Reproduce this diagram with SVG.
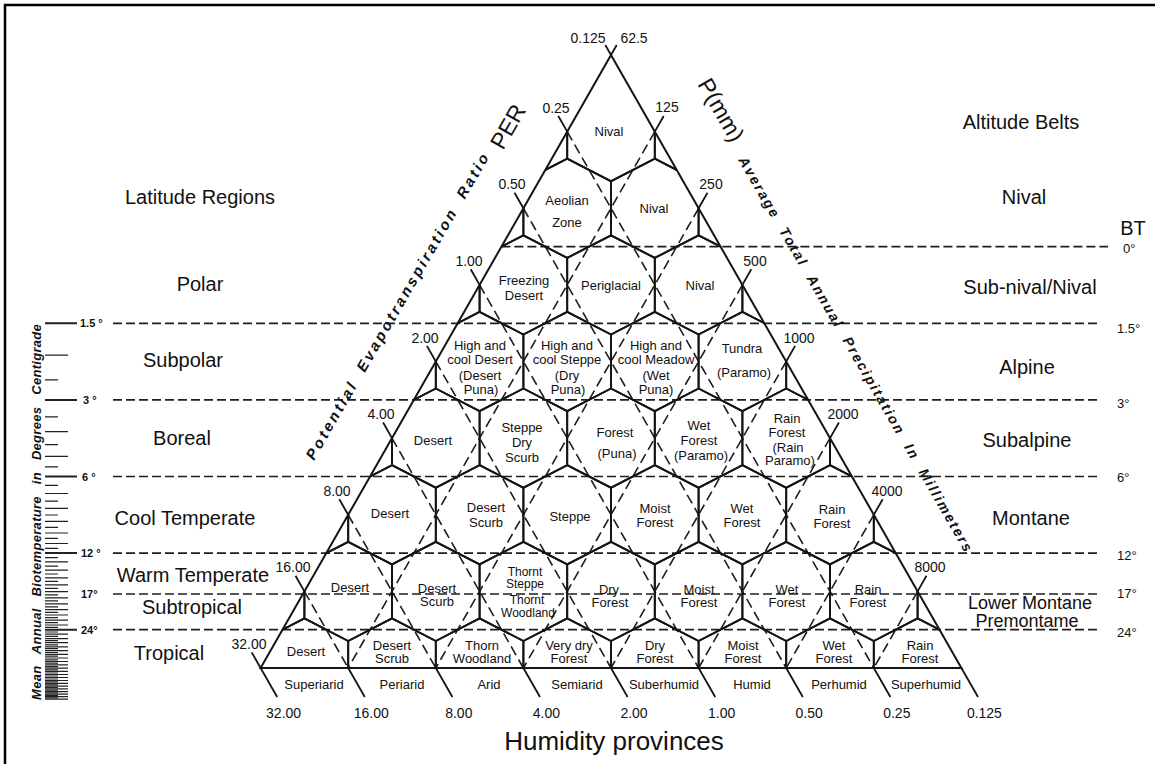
<svg xmlns="http://www.w3.org/2000/svg" width="1155" height="764" viewBox="0 0 1155 764">
<defs>
<style>
  text { font-family: "Liberation Sans", Arial, sans-serif; fill: #111; }
  .frame { fill: none; stroke: #000; stroke-width: 2.5; }
  .hex { fill: none; stroke: #141414; stroke-width: 1.9; }
  .edge { fill: none; stroke: #141414; stroke-width: 2; }
  .dh { fill: none; stroke: #1e1e1e; stroke-width: 1.7; stroke-dasharray: 9 4; }
  .dd { fill: none; stroke: #1e1e1e; stroke-width: 1.6; stroke-dasharray: 10 5; }
  .tick { fill: none; stroke: #141414; stroke-width: 1.8; }
  .rmaj { fill: none; stroke: #222; stroke-width: 2; }
  .rmin { fill: none; stroke: #222; stroke-width: 1.2; }
  .zl { font-size: 13px; text-anchor: middle; }
  .num { font-size: 14px; text-anchor: middle; }
  .reg { font-size: 20px; text-anchor: middle; }
  .deg { font-size: 13px; }
  .rul { font-size: 11px; font-weight: bold; }
  .axis { font-size: 14px; font-weight: bold; font-style: italic; }
  .big { font-size: 23px; }
</style>
<clipPath id="tri"><polygon points="611,55 260.6,668 961.4,668"/></clipPath>
<!-- one life-zone cell of the honeycomb, centred on 0,0 -->
<path id="hex" d="M0,-49.6 L43.8,-27 L43.8,27 L0,49.6 L-43.8,27 L-43.8,-27 Z"/>
</defs>

<rect width="1155" height="764" fill="#fff"/>
<path class="frame" d="M5,764 V5 H1155"/>

<!-- partial cells cut by the two sloping sides -->
<g id="edge-cells" clip-path="url(#tri)">
  <use href="#hex" class="hex" x="523.4" y="131.6"/><use href="#hex" class="hex" x="698.6" y="131.6"/>
  <use href="#hex" class="hex" x="479.6" y="208.3"/><use href="#hex" class="hex" x="742.4" y="208.3"/>
  <use href="#hex" class="hex" x="435.8" y="284.9"/><use href="#hex" class="hex" x="786.2" y="284.9"/>
  <use href="#hex" class="hex" x="392" y="361.5"/><use href="#hex" class="hex" x="830" y="361.5"/>
  <use href="#hex" class="hex" x="348.2" y="438.1"/><use href="#hex" class="hex" x="873.8" y="438.1"/>
  <use href="#hex" class="hex" x="304.4" y="514.8"/><use href="#hex" class="hex" x="917.6" y="514.8"/>
  <use href="#hex" class="hex" x="260.6" y="591.4"/><use href="#hex" class="hex" x="961.4" y="591.4"/>
</g>

<!-- guide lines: biotemperature, PER and precipitation -->
<g id="connectors">
  <path class="dh" d="M501.4,246.7 H1108"/>
  <path class="dh" d="M113,323.3 H1100"/>
  <path class="dh" d="M113,399.9 H1100"/>
  <path class="dh" d="M113,476.5 H1100"/>
  <path class="dh" d="M113,553.1 H1098"/>
  <path class="dh" d="M113,594 H1098"/>
  <path class="dh" d="M113,629.7 H1100"/>

  <path class="dd" d="M567.2,131.6 L873.8,668"/>
  <path class="dd" d="M523.4,208.3 L786.2,668"/>
  <path class="dd" d="M479.6,284.9 L698.6,668"/>
  <path class="dd" d="M435.8,361.5 L611,668"/>
  <path class="dd" d="M392,438.1 L523.4,668"/>
  <path class="dd" d="M348.2,514.8 L435.8,668"/>
  <path class="dd" d="M304.4,591.4 L348.2,668"/>

  <path class="dd" d="M654.8,131.6 L348.2,668"/>
  <path class="dd" d="M698.6,208.3 L435.8,668"/>
  <path class="dd" d="M742.4,284.9 L523.4,668"/>
  <path class="dd" d="M786.2,361.5 L611,668"/>
  <path class="dd" d="M830,438.1 L698.6,668"/>
  <path class="dd" d="M873.8,514.8 L786.2,668"/>
  <path class="dd" d="M917.6,591.4 L873.8,668"/>

  <path class="tick" d="M567.2,131.6 L558.3,116 M523.4,208.3 L514.5,192.7 M479.6,284.9 L470.7,269.3 M435.8,361.5 L426.9,345.9 M392,438.1 L383.1,422.5 M348.2,514.8 L339.3,499.2 M304.4,591.4 L295.5,575.8 M260.6,668 L251.7,652.4"/>
  <path class="tick" d="M654.8,131.6 L663.7,116 M698.6,208.3 L707.5,192.7 M742.4,284.9 L751.3,269.3 M786.2,361.5 L795.1,345.9 M830,438.1 L838.9,422.5 M873.8,514.8 L882.7,499.2 M917.6,591.4 L926.5,575.8"/>
  <path class="tick" d="M611,55 L605.3,45 M611,55 L616.7,45"/>
  <path class="tick" d="M260.6,668 L277.2,697 M348.2,668 L364.8,697 M435.8,668 L452.4,697 M523.4,668 L540,697 M611,668 L627.6,697 M698.6,668 L715.2,697 M786.2,668 L802.8,697 M873.8,668 L890.4,697 M961.4,668 L978,697"/>
</g>

<!-- triangle frame -->
<path id="triangle" class="edge" d="M611,55 L260.6,668 L961.4,668 Z"/>

<!-- life zones -->
<g id="zones">
  <g id="zone-r1-nival"><g clip-path="url(#tri)"><path class="hex" d="M567.2,104.6 L567.2,158.6 L611,181.2 L654.8,158.6 L654.8,104.6"/></g><text class="zl" x="609" y="136">Nival</text></g>

  <g id="zone-r2-aeolian"><g clip-path="url(#tri)"><use href="#hex" class="hex" x="567.2" y="208.3"/></g><text class="zl"><tspan x="567" y="204.5">Aeolian</tspan><tspan x="567" y="226.5">Zone</tspan></text></g>
  <g id="zone-r2-nival"><g clip-path="url(#tri)"><use href="#hex" class="hex" x="654.8" y="208.3"/></g><text class="zl" x="654" y="212.5">Nival</text></g>

  <g id="zone-r3-freezing-desert"><g clip-path="url(#tri)"><use href="#hex" class="hex" x="523.4" y="284.9"/></g><text class="zl"><tspan x="524" y="284.5">Freezing</tspan><tspan x="524" y="299.5">Desert</tspan></text></g>
  <g id="zone-r3-periglacial"><g clip-path="url(#tri)"><use href="#hex" class="hex" x="611" y="284.9"/></g><text class="zl" x="611" y="289.5">Periglacial</text></g>
  <g id="zone-r3-nival"><g clip-path="url(#tri)"><use href="#hex" class="hex" x="698.6" y="284.9"/></g><text class="zl" x="700" y="289.5">Nival</text></g>

  <g id="zone-r4-cool-desert"><g clip-path="url(#tri)"><use href="#hex" class="hex" x="479.6" y="361.5"/></g><text class="zl"><tspan x="480" y="349.5">High and</tspan><tspan x="480" y="363.5">cool Desert</tspan><tspan x="480" y="379.5">(Desert</tspan><tspan x="481" y="393.5">Puna)</tspan></text></g>
  <g id="zone-r4-cool-steppe"><g clip-path="url(#tri)"><use href="#hex" class="hex" x="567.2" y="361.5"/></g><text class="zl"><tspan x="567" y="349.5">High and</tspan><tspan x="567" y="363.5">cool Steppe</tspan><tspan x="567" y="379.5">(Dry</tspan><tspan x="568" y="393.5">Puna)</tspan></text></g>
  <g id="zone-r4-cool-meadow"><g clip-path="url(#tri)"><use href="#hex" class="hex" x="654.8" y="361.5"/></g><text class="zl"><tspan x="656" y="349.5">High and</tspan><tspan x="656" y="363.5">cool Meadow</tspan><tspan x="656" y="379.5">(Wet</tspan><tspan x="656" y="393.5">Puna)</tspan></text></g>
  <g id="zone-r4-tundra"><g clip-path="url(#tri)"><use href="#hex" class="hex" x="742.4" y="361.5"/></g><text class="zl"><tspan x="742" y="352.5">Tundra</tspan><tspan x="744" y="376.5">(Paramo)</tspan></text></g>

  <g id="zone-r5-desert"><g clip-path="url(#tri)"><use href="#hex" class="hex" x="435.8" y="438.1"/></g><text class="zl" x="433" y="445">Desert</text></g>
  <g id="zone-r5-steppe"><g clip-path="url(#tri)"><use href="#hex" class="hex" x="523.4" y="438.1"/></g><text class="zl"><tspan x="522" y="432">Steppe</tspan><tspan x="522" y="447">Dry</tspan><tspan x="522" y="462">Scurb</tspan></text></g>
  <g id="zone-r5-forest"><g clip-path="url(#tri)"><use href="#hex" class="hex" x="611" y="438.1"/></g><text class="zl"><tspan x="615" y="436.5">Forest</tspan><tspan x="617" y="457.5">(Puna)</tspan></text></g>
  <g id="zone-r5-wet-forest"><g clip-path="url(#tri)"><use href="#hex" class="hex" x="698.6" y="438.1"/></g><text class="zl"><tspan x="699" y="429.5">Wet</tspan><tspan x="699" y="444.5">Forest</tspan><tspan x="701" y="459.5">(Paramo)</tspan></text></g>
  <g id="zone-r5-rain-forest"><g clip-path="url(#tri)"><use href="#hex" class="hex" x="786.2" y="438.1"/></g><text class="zl"><tspan x="787" y="422.5">Rain</tspan><tspan x="787" y="436.5">Forest</tspan><tspan x="788" y="451.5">(Rain</tspan><tspan x="790" y="464.5">Paramo)</tspan></text></g>

  <g id="zone-r6-desert"><g clip-path="url(#tri)"><use href="#hex" class="hex" x="392" y="514.8"/></g><text class="zl" x="390" y="517.5">Desert</text></g>
  <g id="zone-r6-desert-scrub"><g clip-path="url(#tri)"><use href="#hex" class="hex" x="479.6" y="514.8"/></g><text class="zl"><tspan x="486" y="511.5">Desert</tspan><tspan x="486" y="526.5">Scurb</tspan></text></g>
  <g id="zone-r6-steppe"><g clip-path="url(#tri)"><use href="#hex" class="hex" x="567.2" y="514.8"/></g><text class="zl" x="570" y="520.5">Steppe</text></g>
  <g id="zone-r6-moist-forest"><g clip-path="url(#tri)"><use href="#hex" class="hex" x="654.8" y="514.8"/></g><text class="zl"><tspan x="655" y="513">Moist</tspan><tspan x="655" y="527">Forest</tspan></text></g>
  <g id="zone-r6-wet-forest"><g clip-path="url(#tri)"><use href="#hex" class="hex" x="742.4" y="514.8"/></g><text class="zl"><tspan x="742" y="513">Wet</tspan><tspan x="742" y="527">Forest</tspan></text></g>
  <g id="zone-r6-rain-forest"><g clip-path="url(#tri)"><use href="#hex" class="hex" x="830" y="514.8"/></g><text class="zl"><tspan x="832" y="514">Rain</tspan><tspan x="832" y="527.5">Forest</tspan></text></g>

  <g id="zone-r7-desert"><g clip-path="url(#tri)"><use href="#hex" class="hex" x="348.2" y="591.4"/></g><text class="zl" x="350" y="591.5">Desert</text></g>
  <g id="zone-r7-desert-scrub"><g clip-path="url(#tri)"><use href="#hex" class="hex" x="435.8" y="591.4"/></g><text class="zl"><tspan x="437" y="592.5">Desert</tspan><tspan x="437" y="605.5">Scurb</tspan></text></g>
  <g id="zone-r7-thorn"><g clip-path="url(#tri)"><use href="#hex" class="hex" x="523.4" y="591.4"/></g><text class="zl" style="font-size:12px"><tspan x="525" y="575.5">Thornt</tspan><tspan x="525" y="587.5">Steppe</tspan><tspan x="527" y="604">Thornt</tspan><tspan x="528" y="617">Woodland</tspan></text></g>
  <g id="zone-r7-dry-forest"><g clip-path="url(#tri)"><use href="#hex" class="hex" x="611" y="591.4"/></g><text class="zl"><tspan x="609" y="593.5">Dry</tspan><tspan x="610" y="606.5">Forest</tspan></text></g>
  <g id="zone-r7-moist-forest"><g clip-path="url(#tri)"><use href="#hex" class="hex" x="698.6" y="591.4"/></g><text class="zl"><tspan x="699" y="593.5">Moist</tspan><tspan x="699" y="606.5">Forest</tspan></text></g>
  <g id="zone-r7-wet-forest"><g clip-path="url(#tri)"><use href="#hex" class="hex" x="786.2" y="591.4"/></g><text class="zl"><tspan x="787" y="593.5">Wet</tspan><tspan x="787" y="606.5">Forest</tspan></text></g>
  <g id="zone-r7-rain-forest"><g clip-path="url(#tri)"><use href="#hex" class="hex" x="873.8" y="591.4"/></g><text class="zl"><tspan x="868" y="593.5">Rain</tspan><tspan x="868" y="606.5">Forest</tspan></text></g>

  <g id="zone-r8-desert"><g clip-path="url(#tri)"><use href="#hex" class="hex" x="304.4" y="668"/></g><text class="zl" x="306" y="655.5">Desert</text></g>
  <g id="zone-r8-desert-scrub"><g clip-path="url(#tri)"><use href="#hex" class="hex" x="392" y="668"/></g><text class="zl"><tspan x="392" y="649.5">Desert</tspan><tspan x="392" y="662.5">Scrub</tspan></text></g>
  <g id="zone-r8-thorn-woodland"><g clip-path="url(#tri)"><use href="#hex" class="hex" x="479.6" y="668"/></g><text class="zl"><tspan x="482" y="649.5">Thorn</tspan><tspan x="482" y="662.5">Woodland</tspan></text></g>
  <g id="zone-r8-very-dry-forest"><g clip-path="url(#tri)"><use href="#hex" class="hex" x="567.2" y="668"/></g><text class="zl"><tspan x="569" y="649.5">Very dry</tspan><tspan x="569" y="662.5">Forest</tspan></text></g>
  <g id="zone-r8-dry-forest"><g clip-path="url(#tri)"><use href="#hex" class="hex" x="654.8" y="668"/></g><text class="zl"><tspan x="655" y="649.5">Dry</tspan><tspan x="655" y="662.5">Forest</tspan></text></g>
  <g id="zone-r8-moist-forest"><g clip-path="url(#tri)"><use href="#hex" class="hex" x="742.4" y="668"/></g><text class="zl"><tspan x="743" y="649.5">Moist</tspan><tspan x="743" y="662.5">Forest</tspan></text></g>
  <g id="zone-r8-wet-forest"><g clip-path="url(#tri)"><use href="#hex" class="hex" x="830" y="668"/></g><text class="zl"><tspan x="834" y="649.5">Wet</tspan><tspan x="834" y="662.5">Forest</tspan></text></g>
  <g id="zone-r8-rain-forest"><g clip-path="url(#tri)"><use href="#hex" class="hex" x="917.6" y="668"/></g><text class="zl"><tspan x="920" y="649.5">Rain</tspan><tspan x="920" y="662.5">Forest</tspan></text></g>
</g>

<!-- humidity provinces along the base -->
<g id="provinces">
  <text class="zl" x="314" y="688.5">Superiarid</text>
  <text class="zl" x="402" y="688.5">Periarid</text>
  <text class="zl" x="489" y="688.5">Arid</text>
  <text class="zl" x="577" y="688.5">Semiarid</text>
  <text class="zl" x="664" y="688.5">Suberhumid</text>
  <text class="zl" x="752" y="688.5">Humid</text>
  <text class="zl" x="839" y="688.5">Perhumid</text>
  <text class="zl" x="926" y="688.5">Superhumid</text>
</g>

<!-- scale values -->
<g id="per-values">
  <text class="num" x="556" y="112.6">0.25</text>
  <text class="num" x="512" y="189.3">0.50</text>
  <text class="num" x="469" y="266">1.00</text>
  <text class="num" x="425" y="342.5">2.00</text>
  <text class="num" x="381" y="419">4.00</text>
  <text class="num" x="337" y="496">8.00</text>
  <text class="num" x="293" y="572">16.00</text>
  <text class="num" x="249" y="649">32.00</text>
  <text class="num" x="588" y="43">0.125</text>
</g>
<g id="precip-values">
  <text class="num" x="634" y="43">62.5</text>
  <text class="num" x="667" y="112">125</text>
  <text class="num" x="711" y="189">250</text>
  <text class="num" x="755" y="266">500</text>
  <text class="num" x="799" y="342.5">1000</text>
  <text class="num" x="843" y="419">2000</text>
  <text class="num" x="887" y="496">4000</text>
  <text class="num" x="930" y="572">8000</text>
</g>
<g id="base-values">
  <text class="num" x="283.6" y="717.5">32.00</text>
  <text class="num" x="371.2" y="717.5">16.00</text>
  <text class="num" x="458.8" y="717.5">8.00</text>
  <text class="num" x="546.4" y="717.5">4.00</text>
  <text class="num" x="634" y="717.5">2.00</text>
  <text class="num" x="721.6" y="717.5">1.00</text>
  <text class="num" x="809.2" y="717.5">0.50</text>
  <text class="num" x="896.8" y="717.5">0.25</text>
  <text class="num" x="984.4" y="717.5">0.125</text>
</g>

<!-- axis titles -->
<text class="axis" style="font-size:15px" transform="translate(314,461) rotate(-60)" letter-spacing="2.8" word-spacing="6">Potential Evapotranspiration Ratio</text>
<text class="big" transform="translate(503,151) rotate(-60)">PER</text>
<text class="big" transform="translate(697,84) rotate(60)">P(mm)</text>
<text class="axis" transform="translate(738,160) rotate(60)" letter-spacing="2" word-spacing="6.5">Average Total Annual Precipitation In Millimeters</text>
<text style="font-size:26px;text-anchor:middle" x="614" y="750">Humidity provinces</text>

<!-- latitude regions -->
<g id="latitude">
  <text class="reg" x="200" y="204">Latitude Regions</text>
  <text class="reg" x="200" y="291">Polar</text>
  <text class="reg" x="183" y="367">Subpolar</text>
  <text class="reg" x="182" y="445">Boreal</text>
  <text class="reg" x="185" y="525">Cool Temperate</text>
  <text class="reg" x="193" y="582">Warm Temperate</text>
  <text class="reg" x="192" y="614">Subtropical</text>
  <text class="reg" x="169" y="660">Tropical</text>
</g>

<!-- altitude belts -->
<g id="altitude">
  <text class="reg" x="1021" y="129">Altitude Belts</text>
  <text class="reg" x="1024" y="204">Nival</text>
  <text class="reg" x="1133" y="235">BT</text>
  <text class="reg" x="1030" y="294">Sub-nival/Nival</text>
  <text class="reg" x="1027" y="374">Alpine</text>
  <text class="reg" x="1027" y="447">Subalpine</text>
  <text class="reg" x="1031" y="525">Montane</text>
  <text class="reg" style="font-size:18px" x="1030" y="609">Lower Montane</text>
  <text class="reg" style="font-size:18px" x="1027" y="627">Premontame</text>
  <text class="deg" x="1123" y="253">0°</text>
  <text class="deg" x="1117" y="333">1.5°</text>
  <text class="deg" x="1117" y="408">3°</text>
  <text class="deg" x="1117" y="482">6°</text>
  <text class="deg" x="1117" y="560">12°</text>
  <text class="deg" x="1117" y="598">17°</text>
  <text class="deg" x="1117" y="637">24°</text>
</g>

<!-- biotemperature ruler (log scale) -->
<g id="ruler">
  <path class="rmaj" d="M45,323.3 H77 M45,399.9 H77 M45,476.5 H77 M45,553.1 H77 M45,629.7 H77"/>
  <path class="rmin" d="M45,355.1 H68 M45,431.7 H68 M45,456.4 H68 M45,493.5 H68 M45,508.3 H68 M45,521.3 H68 M45,533 H68 M45,543.5 H68 M45,561.9 H68 M45,570.1 H68 M45,577.8 H68 M45,584.9 H68 M45,591.6 H68 M45,597.9 H68 M45,603.9 H68 M45,609.6 H68 M45,615 H68 M45,620.1 H68 M45,625 H68 M45,634.2 H68 M45,638.6 H68 M45,642.7 H68 M45,646.8 H68 M45,650.6 H68 M45,654.4 H68 M45,658 H68 M45,661.5 H68 M45,664.9 H68 M45,668.2 H68 M45,671.4 H68 M45,674.5 H68 M45,677.5 H68 M45,680.5 H68 M45,683.4 H68 M45,686.2 H68 M45,688.9 H68 M45,691.6 H68 M45,694.2 H68 M45,696.7 H68 M45,699.2 H68"/>
  <path class="rmin" d="M45,379.8 H58 M45,416.9 H58 M45,444.7 H58 M45,466.9 H58 M45,485.3 H58 M45,501.2 H58 M45,515 H58 M45,527.3 H58 M45,538.3 H58 M45,548.4 H58 M45,557.6 H58 M45,566.1 H58 M45,574 H58 M45,581.4 H58 M45,588.3 H58 M45,594.8 H58 M45,600.9 H58 M45,606.8 H58 M45,612.3 H58 M45,617.6 H58 M45,622.6 H58 M45,627.4 H58 M45,632 H58 M45,636.4 H58 M45,640.7 H58 M45,644.8 H58 M45,648.7 H58 M45,652.5 H58 M45,656.2 H58 M45,659.8 H58 M45,663.2 H58 M45,666.6 H58 M45,669.8 H58 M45,673 H58 M45,676 H58 M45,679 H58 M45,681.9 H58 M45,684.8 H58 M45,687.5 H58 M45,690.2 H58 M45,692.9 H58 M45,695.4 H58 M45,697.9 H58"/>
  <text class="rul" x="80" y="327">1.5 °</text>
  <text class="rul" x="83" y="404">3 °</text>
  <text class="rul" x="82" y="480.5">6 °</text>
  <text class="rul" x="81" y="557">12 °</text>
  <text class="rul" x="81" y="598">17°</text>
  <text class="rul" x="81" y="634">24°</text>
  <text class="axis" style="font-size:13px" transform="translate(41,700) rotate(-90)" letter-spacing="0.3" word-spacing="8">Mean Annual Biotemperature in Degrees Centigrade</text>
</g>
</svg>
